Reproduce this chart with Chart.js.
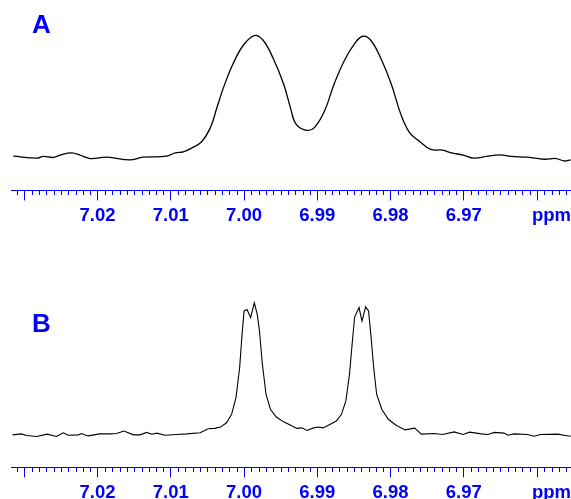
<!DOCTYPE html>
<html><head><meta charset="utf-8">
<script src="https://cdn.jsdelivr.net/npm/chart.js@4"></script>
<style>
html,body{margin:0;padding:0;overflow:hidden;background:#fff}
#wrap{position:relative;width:571px;height:499px;overflow:hidden}
canvas{position:absolute;left:0}
#ca{top:0}
#cb{top:277px}
</style></head><body>
<div id="wrap"><canvas id="ca" width="571" height="232"></canvas><canvas id="cb" width="571" height="232"></canvas></div>
<script>
// Spectrum A (broad)
const ppmA = [7.0315, 7.0283, 7.0274, 7.0260, 7.0249, 7.0235, 7.0224, 7.0210, 7.0187, 7.0156, 7.0138, 7.0106, 7.0094, 7.0083, 7.0071, 7.0058, 7.0046, 7.0037, 7.0028, 7.0015, 7.0001, 6.9986, 6.9974, 6.9960, 6.9946, 6.9937, 6.9929, 6.9915, 6.9904, 6.9890, 6.9877, 6.9863, 6.9849, 6.9838, 6.9827, 6.9813, 6.9799, 6.9786, 6.9774, 6.9761, 6.9745, 6.9729, 6.9717, 6.9701, 6.9686, 6.9667, 6.9651, 6.9635, 6.9613, 6.9590, 6.9574, 6.9563, 6.9554];
const intA = [0.8, -0.8, 0.6, -0.2, 2.2, 3.6, 1.7, -1.1, 0, -2.2, 0, 0.8, 3.6, 4.4, 7.7, 12.7, 24.3, 40.8, 57.4, 76.8, 92.0, 100, 96.1, 80.9, 60.2, 41.4, 27.1, 22.1, 24.3, 38.1, 60.2, 79.5, 93.4, 99.4, 96.1, 80.9, 60.2, 35.4, 20.1, 13.3, 6.4, 5.8, 3.6, 1.7, -0.8, 0.8, 1.9, 0.6, 0, -1.7, -1.1, -3.1, -2.2];
// Spectrum B (resolved)
const ppmB = [7.0316, 7.0304, 7.0297, 7.0283, 7.0269, 7.0256, 7.0247, 7.0240, 7.0226, 7.0222, 7.0213, 7.0197, 7.0183, 7.0174, 7.0164, 7.0151, 7.0142, 7.0133, 7.0126, 7.0119, 7.0108, 7.0092, 7.0078, 7.0060, 7.0049, 7.0040, 7.0032, 7.0024, 7.0017, 7.0011, 7.0006, 7.0003, 7.0000, 6.9996, 6.9991, 6.9986, 6.9982, 6.9979, 6.9975, 6.9970, 6.9964, 6.9956, 6.9946, 6.9937, 6.9928, 6.9921, 6.9914, 6.9905, 6.9899, 6.9892, 6.9883, 6.9874, 6.9867, 6.9861, 6.9856, 6.9852, 6.9849, 6.9843, 6.9839, 6.9834, 6.9830, 6.9827, 6.9823, 6.9819, 6.9812, 6.9803, 6.9792, 6.9780, 6.9767, 6.9758, 6.9740, 6.9729, 6.9713, 6.9701, 6.9692, 6.9676, 6.9667, 6.9658, 6.9645, 6.9640, 6.9631, 6.9613, 6.9604, 6.9595, 6.9572, 6.9563, 6.9554];
const intB = [-0.5, 0.2, -1.0, -1.7, 0, -1.7, 1.0, -0.8, -0.5, 0.5, -1.3, 0.2, 0.2, 0.5, 2.3, -0.5, -0.5, 1.3, 0, 0.8, -0.8, -0.2, 0.2, 1.0, 4.0, 4.3, 5.3, 8.5, 14.8, 27.3, 49.8, 72.4, 92.0, 93.0, 87.0, 98.0, 89.5, 77.4, 52.4, 29.8, 18.6, 12.8, 9.2, 6.8, 4.3, 4.7, 2.8, 4.7, 5.3, 4.7, 7.3, 9.8, 14.8, 24.8, 44.9, 69.9, 87.4, 94.5, 84.4, 95.0, 92.0, 75.0, 49.8, 29.8, 18.6, 11.1, 6.5, 3.2, 4.5, 0, 0.5, -0.2, 1.7, -0.2, 1.5, 0.2, -0.2, 1.3, 0.8, -0.8, 0.2, -0.2, -1.5, -0.2, 0, -0.8, -1.5];
// Axis
const majorTicks = [7.03, 7.02, 7.01, 7.00, 6.99, 6.98, 6.97, 6.96];
const tickLabels = ['', '7.02', '7.01', '7.00', '6.99', '6.98', '6.97', ''];
const unitLabel = 'ppm';
const unitTick = 6.96;
const xRange = [6.95536, 7.03182];
const panelLabels = ['A', 'B'];

const BLUE = '#0000ff';
const FONT = '"Liberation Sans", Arial, Helvetica, sans-serif';
const TICK_LEN = 10, TICK_PAD = 5, LABEL_SIZE = 18.5, LINE_H = 21.6 / 18.5;

const decor = {
  id: 'decor',
  afterDraw(chart, args, opts) {
    const ctx = chart.ctx, xs = chart.scales.x;
    ctx.save();
    ctx.strokeStyle = BLUE; ctx.lineWidth = 1;
    ctx.beginPath();
    const y0 = Math.round(xs.top);
    for (let k = Math.ceil(xs.min * 1000); k <= Math.floor(xs.max * 1000); k++) {
      if (k % 10 === 0) continue;
      const px = Math.round(xs.getPixelForValue(k / 1000)) + 0.5;
      if (px < chart.chartArea.left || px > chart.chartArea.right) continue;
      ctx.moveTo(px, y0); ctx.lineTo(px, y0 + 5);
    }
    ctx.stroke();
    ctx.fillStyle = BLUE;
    ctx.font = 'bold ' + LABEL_SIZE + 'px ' + FONT;
    ctx.textAlign = 'left'; ctx.textBaseline = 'middle';
    ctx.fillText(unitLabel, xs.getPixelForValue(unitTick) - 5, xs.top + TICK_LEN + TICK_PAD + LABEL_SIZE * LINE_H / 2);
    ctx.font = 'bold 26px ' + FONT;
    ctx.textBaseline = 'alphabetic';
    ctx.fillText(opts.label, 32, opts.labelY);
    ctx.restore();
  }
};

function makeChart(id, ppm, vals, ymin, ymax, label, labelY, lw, smooth) {
  const pts = ppm.map((p, i) => ({x: p, y: vals[i]}));
  return new Chart(document.getElementById(id), {
    type: 'line',
    data: {datasets: [{data: pts, borderColor: '#000', borderWidth: lw, pointRadius: 0,
      tension: smooth ? 0.4 : 0, fill: false}]},
    options: {
      responsive: false, animation: false, devicePixelRatio: 1,
      layout: {padding: {left: 11, right: 0, top: 0, bottom: 0}},
      plugins: {legend: {display: false}, tooltip: {enabled: false}, decor: {label: label, labelY: labelY}},
      scales: {
        x: {type: 'linear', reverse: true, min: xRange[0], max: xRange[1],
          afterBuildTicks: (s) => { s.ticks = majorTicks.map(v => ({value: v})); },
          grid: {display: true, drawOnChartArea: false, drawTicks: true, tickLength: TICK_LEN, tickColor: BLUE, tickWidth: 1},
          border: {display: true, color: BLUE, width: 1},
          ticks: {color: BLUE, padding: TICK_PAD, maxRotation: 0, autoSkip: false,
            font: {family: FONT, size: LABEL_SIZE, weight: 'bold', lineHeight: LINE_H},
            callback: (v, i) => tickLabels[i]}
        },
        y: {display: false, min: ymin, max: ymax}
      }
    },
    plugins: [decor]
  });
}

makeChart('ca', ppmA, intA, -27.3, 129.2, panelLabels[0], 33, 1.3, true);
makeChart('cb', ppmB, intB, -24.8, 117.3, panelLabels[1], 55, 1.1, false);
</script>
</body></html>
